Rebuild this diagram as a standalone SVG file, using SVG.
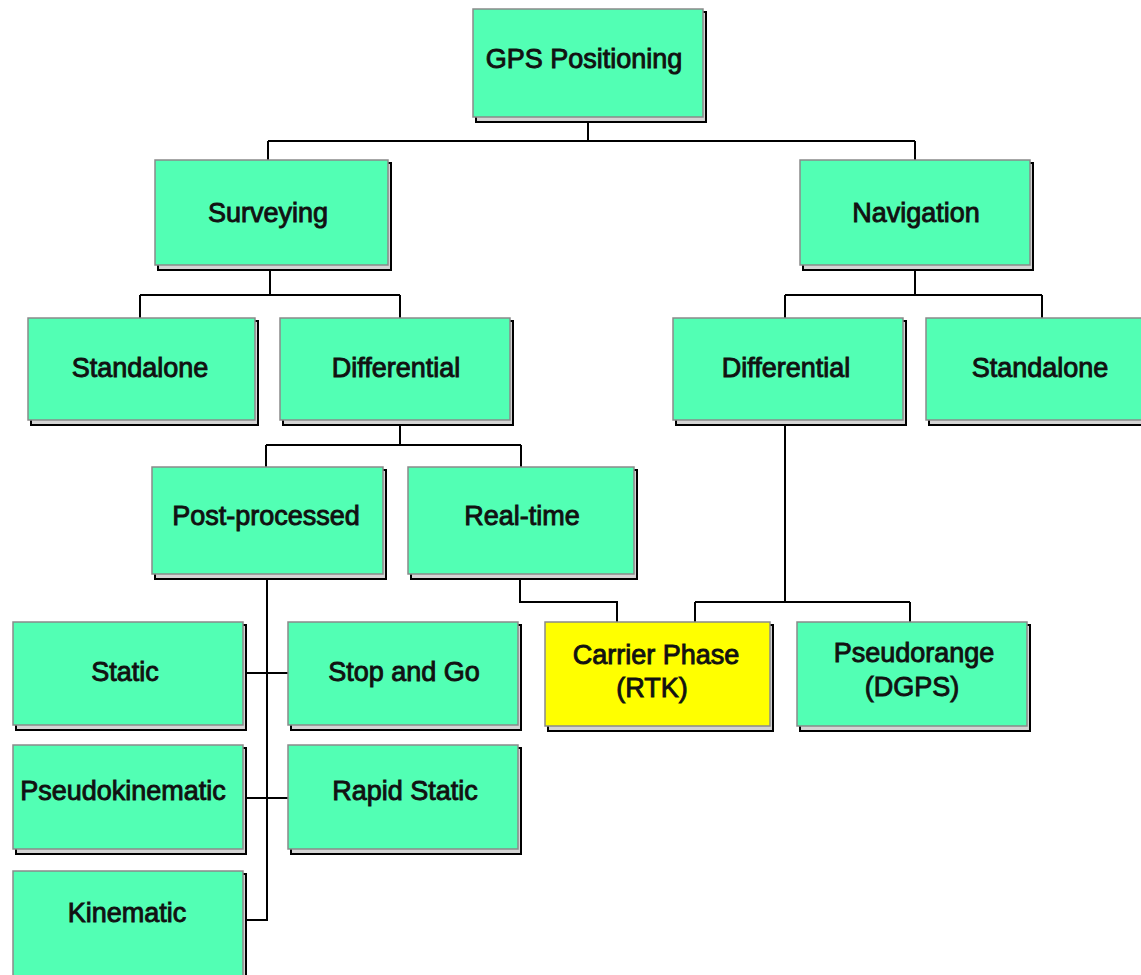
<svg xmlns="http://www.w3.org/2000/svg" width="1141" height="975" viewBox="0 0 1141 975">
<style>
.sh{fill:#d4d4d4;stroke:#000;stroke-width:2}
.bx{fill:#52FFB4;stroke:#8a8a8a;stroke-width:1.5}
.yl{fill:#FFFF00;stroke:#8a8a8a;stroke-width:1.5}
.t{font-family:"Liberation Sans",Arial,sans-serif;font-size:27px;fill:#111;stroke:#111;stroke-width:0.9;text-anchor:middle}
.c{fill:none;stroke:#000;stroke-width:2}
</style>
<rect width="1141" height="975" fill="#fff"/>
<g id="connectors">
<path class="c" d="M588 118V141M268 141H915M268 141V160M915 141V160"/>
<path class="c" d="M270 266V295M140 295H400M140 295V318M400 295V318"/>
<path class="c" d="M915 266V295M785 295H1042M785 295V318M1042 295V318"/>
<path class="c" d="M400 421V445M266 445H521M266 445V467M521 445V467"/>
<path class="c" d="M520 575V602H617V622"/>
<path class="c" d="M785 421V602M695 602H910M695 602V622M910 602V622"/>
<path class="c" d="M267 575V920H245M245 673H288M245 798H288"/>
</g>
<g id="gps"><rect class="sh" x="476" y="12" width="230" height="110"/><rect class="bx" x="473" y="9" width="230" height="108"/><text class="t" x="584" y="68">GPS Positioning</text></g>
<g id="surveying"><rect class="sh" x="158" y="163" width="233" height="107"/><rect class="bx" x="155" y="160" width="233" height="105"/><text class="t" x="268" y="222">Surveying</text></g>
<g id="navigation"><rect class="sh" x="803" y="163" width="230" height="107"/><rect class="bx" x="800" y="160" width="230" height="105"/><text class="t" x="916" y="222">Navigation</text></g>
<g id="standalone-s"><rect class="sh" x="31" y="321" width="227" height="104"/><rect class="bx" x="28" y="318" width="227" height="102"/><text class="t" x="140" y="377">Standalone</text></g>
<g id="differential-s"><rect class="sh" x="283" y="321" width="230" height="104"/><rect class="bx" x="280" y="318" width="230" height="102"/><text class="t" x="396" y="377">Differential</text></g>
<g id="differential-n"><rect class="sh" x="676" y="321" width="230" height="104"/><rect class="bx" x="673" y="318" width="230" height="102"/><text class="t" x="786" y="377">Differential</text></g>
<g id="standalone-n"><rect class="sh" x="929" y="321" width="230" height="104"/><rect class="bx" x="926" y="318" width="230" height="102"/><text class="t" x="1040" y="377">Standalone</text></g>
<g id="postprocessed"><rect class="sh" x="155" y="470" width="231" height="109"/><rect class="bx" x="152" y="467" width="231" height="107"/><text class="t" x="266" y="525">Post-processed</text></g>
<g id="realtime"><rect class="sh" x="411" y="470" width="226" height="109"/><rect class="bx" x="408" y="467" width="226" height="107"/><text class="t" x="522" y="525">Real-time</text></g>
<g id="carrier"><rect class="sh" x="548" y="625" width="225" height="106"/><rect class="yl" x="545" y="622" width="225" height="104"/><text class="t" x="656" y="664">Carrier Phase</text><text class="t" x="652" y="697">(RTK)</text></g>
<g id="pseudorange"><rect class="sh" x="800" y="625" width="230" height="106"/><rect class="bx" x="797" y="622" width="230" height="104"/><text class="t" x="914" y="662">Pseudorange</text><text class="t" x="912" y="696">(DGPS)</text></g>
<g id="static"><rect class="sh" x="16" y="625" width="230" height="105"/><rect class="bx" x="13" y="622" width="230" height="103"/><text class="t" x="125" y="681">Static</text></g>
<g id="stopgo"><rect class="sh" x="291" y="625" width="230" height="105"/><rect class="bx" x="288" y="622" width="230" height="103"/><text class="t" x="404" y="681">Stop and Go</text></g>
<g id="pseudokinematic"><rect class="sh" x="16" y="748" width="230" height="106"/><rect class="bx" x="13" y="745" width="230" height="104"/><text class="t" x="123" y="800">Pseudokinematic</text></g>
<g id="rapidstatic"><rect class="sh" x="291" y="748" width="230" height="106"/><rect class="bx" x="288" y="745" width="230" height="104"/><text class="t" x="405" y="800">Rapid Static</text></g>
<g id="kinematic"><rect class="sh" x="16" y="874" width="230" height="110"/><rect class="bx" x="13" y="871" width="230" height="110"/><text class="t" x="127" y="922">Kinematic</text></g>
</svg>
